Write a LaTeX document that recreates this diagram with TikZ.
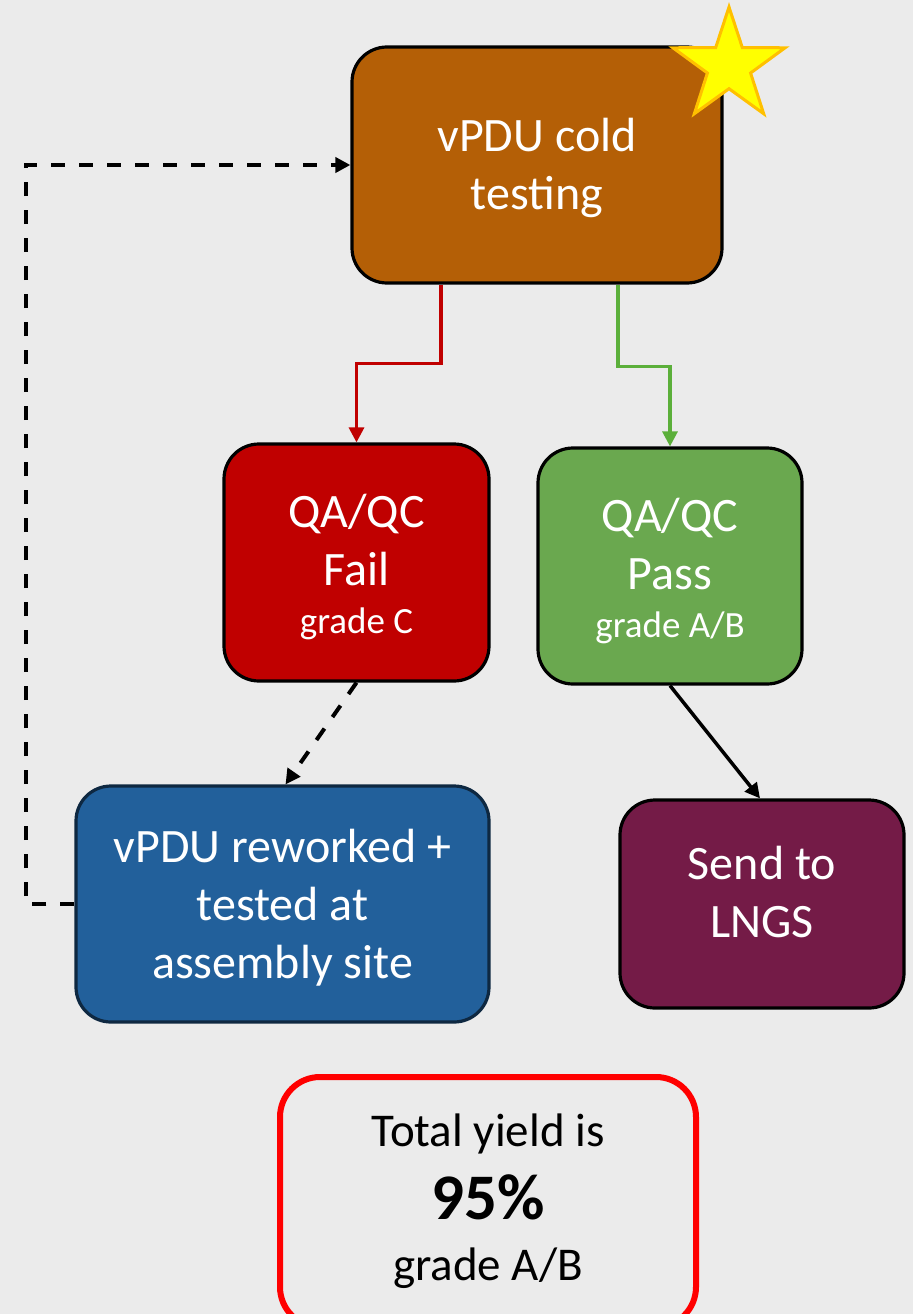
\documentclass[tikz,border=0pt]{standalone}
\usepackage{fontspec}
\setmainfont{Carlito}
\usetikzlibrary{shapes.geometric,arrows.meta}
\definecolor{bg}{HTML}{EBEBEB}
\definecolor{brownbox}{HTML}{B45F06}
\definecolor{redbox}{HTML}{C00000}
\definecolor{greenbox}{HTML}{6AA84F}
\definecolor{bluebox}{HTML}{22609B}
\definecolor{blueedge}{HTML}{0E2841}
\definecolor{purplebox}{HTML}{741B47}
\definecolor{redarrow}{HTML}{C00000}
\definecolor{greenarrow}{HTML}{5BAF3A}
\definecolor{staryellow}{HTML}{FFFF00}
\definecolor{staredge}{HTML}{FFC000}
\definecolor{yieldedge}{HTML}{FF0000}
\tikzset{
  flowbox/.style={draw=black, line width=3.2pt, rounded corners=35pt, inner sep=0pt},
  boxtext/.style={align=center, text=white, inner sep=0pt, font=\fontsize{48}{58}\selectfont},
  tip/.style={-{Triangle[length=15pt,width=15pt]}},
  colarrow/.style={tip, line width=3.2pt},
  dasharrow/.style={tip, line width=4pt, dash pattern=on 14pt off 14pt},
  solidarrow/.style={tip, line width=3.5pt},
  yieldtext/.style={anchor=base, font=\fontsize{47}{50}\selectfont}
}
\begin{document}
\begin{tikzpicture}[x=1pt,y=-1pt]
\fill[bg] (0,0) rectangle (913,1314);
\useasboundingbox (0,0) rectangle (913,1314);

\node[flowbox, fill=brownbox, minimum width=370pt, minimum height=236pt,
  label={[boxtext, yshift=-3pt]center:vPDU cold\\testing}] (cold) at (537,165) {};
\node[star, star points=5, star point ratio=2.6, fill=staryellow, draw=staredge, line width=3pt,
  minimum size=118pt, inner sep=0pt] (star) at (729,66) {};

\node[flowbox, fill=redbox, minimum width=265pt, minimum height=237pt,
  label={[boxtext, yshift=-5pt]center:QA/QC\\Fail\\[-10pt]{\fontsize{37}{40}\selectfont grade C}}] (fail) at (356.5,562.5) {};
\node[flowbox, fill=greenbox, minimum width=264pt, minimum height=236pt,
  label={[boxtext, yshift=-5pt]center:QA/QC\\Pass\\[-10pt]{\fontsize{37}{40}\selectfont grade A/B}}] (pass) at (670,566) {};
\node[flowbox, draw=blueedge, fill=bluebox, minimum width=413pt, minimum height=236pt,
  label={[boxtext, yshift=-4pt]center:vPDU reworked +\\tested at\\assembly site}] (rework) at (282.5,904) {};
\node[flowbox, fill=purplebox, minimum width=284pt, minimum height=208pt,
  label={[boxtext, yshift=12pt]center:Send to\\LNGS}] (lngs) at (762,904) {};

\node[draw=yieldedge, line width=6pt, rounded corners=40pt, minimum width=416pt, minimum height=250pt,
  inner sep=0pt] (yield) at (488,1202) {};
\node[yieldtext] (t1) at (488,1146) {Total yield is};
\node[yieldtext, font=\fontsize{65}{65}\selectfont\bfseries] (t2) at (488,1219) {95\%};
\node[yieldtext] (t3) at (488,1280) {grade A/B};

\draw[colarrow, draw=redarrow] ([xshift=-96pt]cold.south) -- ++(0,79) -| (fail.north);
\draw[colarrow, draw=greenarrow] ([xshift=81pt]cold.south) -- ++(0,82) -| (pass.north);
\draw[dasharrow] (fail.south) -- ([xshift=3pt]rework.north);
\draw[solidarrow] (pass.south) -- ([xshift=-2pt]lngs.north);
\draw[dasharrow] (rework.west) -- ++(-48,0) |- (cold.west);
\end{tikzpicture}
\end{document}
